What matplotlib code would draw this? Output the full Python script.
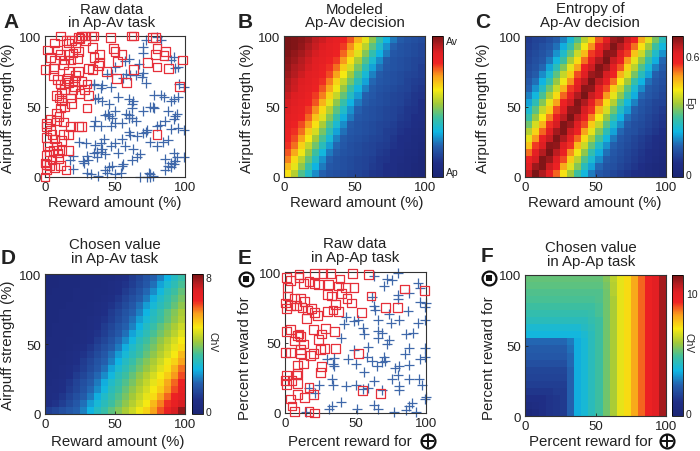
import matplotlib
matplotlib.use('Agg')
import matplotlib.pyplot as plt
from matplotlib.colors import LinearSegmentedColormap
from matplotlib.lines import Line2D

plt.rcParams['font.family'] = ['Liberation Sans', 'DejaVu Sans']
plt.rcParams['font.size'] = 8.5

W, H = 700, 452

# colour level 0-100 in every heatmap, top row first
decision = [
    [100,99,98,96,92,90,87,84,81,77,69,60,50,41,32,25,21,19,18,17],
    [100,99,97,94,91,88,85,83,79,73,64,55,45,36,28,22,19,18,17,16],
    [99,97,95,92,89,86,84,81,76,68,59,49,40,32,25,20,19,18,17,16],
    [98,96,93,90,87,85,82,79,72,63,53,44,35,27,21,19,18,17,16,15],
    [97,94,92,89,86,83,80,75,66,58,48,39,30,24,20,19,18,17,16,14],
    [96,93,90,87,85,82,78,71,62,52,43,34,26,21,19,18,17,16,15,14],
    [94,91,88,86,83,80,74,65,56,47,38,30,23,20,19,18,17,15,14,13],
    [93,90,87,85,82,77,70,61,51,42,33,26,21,19,18,17,16,15,13,12],
    [91,88,86,83,79,74,65,56,46,37,29,22,20,18,17,16,15,14,12,11],
    [89,87,84,81,77,69,60,50,41,32,25,21,19,18,17,16,15,13,12,10],
    [88,85,83,79,73,64,54,45,36,28,22,19,18,17,16,15,14,12,11,9],
    [86,84,81,76,67,59,49,40,31,25,20,19,18,17,16,15,13,12,10,9],
    [85,82,78,72,63,53,44,35,27,21,19,18,17,16,15,14,12,11,9,8],
    [83,80,75,66,58,48,39,30,24,20,19,18,17,16,14,13,11,10,8,7],
    [82,78,71,62,52,43,34,26,21,19,18,17,16,15,14,12,10,9,7,6],
    [80,75,65,56,47,38,29,23,20,18,17,16,15,14,13,11,10,8,7,5],
    [77,70,61,51,42,33,25,21,19,18,17,16,15,13,12,10,9,7,6,4],
    [74,64,55,46,37,28,22,19,18,17,16,15,14,12,11,9,8,6,5,3],
    [68,60,50,41,32,25,20,19,18,17,16,15,13,12,10,9,7,6,4,3],
    [63,54,44,36,27,22,19,18,17,16,15,14,12,11,9,8,6,5,3,2],
]
entropy = [
    [13,15,16,18,21,26,34,44,55,65,77,86,96,98,90,81,70,59,48,38],
    [14,16,18,20,24,31,40,50,61,73,83,91,99,93,85,75,63,52,42,33],
    [15,17,19,22,28,36,46,57,68,79,88,98,97,88,79,67,57,46,36,28],
    [16,18,20,25,33,42,53,64,75,85,94,100,91,83,72,60,50,40,31,23],
    [17,19,23,30,39,49,60,71,81,90,99,95,86,77,65,55,44,34,26,21],
    [18,21,27,35,45,56,66,78,87,96,98,89,81,69,59,48,38,30,22,19],
    [20,24,32,41,51,61,73,84,92,100,92,84,75,62,52,41,32,24,20,18],
    [22,28,37,47,57,69,79,88,98,97,87,78,66,56,45,35,27,21,19,17],
    [26,33,43,53,64,76,85,94,100,91,83,72,60,50,40,31,23,20,18,16],
    [30,39,49,60,71,82,90,99,94,85,76,64,54,43,33,26,20,18,16,15],
    [35,45,56,66,78,87,97,98,89,80,69,58,47,37,29,22,19,17,15,13],
    [41,51,62,74,84,92,100,92,84,74,62,51,41,32,24,20,18,16,14,12],
    [47,58,69,80,89,99,96,87,78,66,56,45,35,27,21,18,17,15,13,11],
    [54,65,76,86,95,99,90,82,71,60,49,39,30,23,19,18,16,14,12,10],
    [60,72,83,91,99,94,85,76,64,53,43,33,25,20,18,16,14,12,10,8],
    [67,79,88,98,97,88,80,68,57,46,36,28,22,19,17,15,13,11,9,7],
    [75,85,93,100,92,83,73,61,50,40,31,24,20,18,16,14,12,10,8,6],
    [81,89,99,96,87,78,66,55,44,35,27,21,19,17,15,13,11,9,7,5],
    [86,96,99,90,82,70,59,49,38,30,23,19,18,16,14,12,10,7,5,4],
    [91,100,94,85,76,63,52,42,33,25,20,18,16,14,12,10,8,6,5,3],
]
chosen_av = [
    [4,4,5,5,5,6,6,6,7,7,8,10,13,16,19,22,26,32,37,41],
    [4,4,5,5,5,6,6,6,7,8,9,11,14,17,20,24,30,35,39,43],
    [4,5,5,5,6,6,6,7,7,8,10,13,16,19,23,27,33,38,42,46],
    [5,5,5,5,6,6,6,7,8,9,12,15,18,21,25,31,36,40,44,48],
    [5,5,5,6,6,6,7,8,9,11,14,17,20,24,29,34,38,42,46,50],
    [5,5,6,6,6,7,7,8,10,13,16,19,22,26,32,37,41,45,49,53],
    [5,5,6,6,6,7,8,9,11,14,17,20,24,29,34,38,42,46,50,54],
    [5,6,6,6,7,7,8,10,13,16,19,22,26,32,37,41,45,49,53,57],
    [5,6,6,6,7,8,9,11,14,17,20,24,30,35,39,43,47,51,55,59],
    [6,6,6,7,7,8,10,13,16,19,23,27,33,38,42,46,50,54,58,62],
    [6,6,6,7,8,9,12,15,18,21,25,31,36,40,44,48,52,56,60,64],
    [6,6,7,8,9,11,14,17,20,24,29,34,38,42,46,50,54,58,62,68],
    [6,7,7,8,10,13,16,19,22,26,32,37,41,45,49,53,57,61,65,71],
    [6,7,8,9,11,14,17,20,24,30,35,39,43,47,51,55,59,63,69,75],
    [7,7,8,10,13,16,19,23,27,33,38,42,46,50,54,58,62,66,72,78],
    [7,8,9,12,15,18,21,25,31,36,40,44,48,52,56,60,64,70,76,82],
    [8,8,10,13,16,19,23,27,33,38,42,46,50,54,58,62,66,72,78,84],
    [8,9,12,15,18,21,25,31,36,40,44,48,52,56,60,64,70,76,82,86],
    [9,11,14,17,20,24,29,34,38,42,46,50,54,58,62,68,74,80,84,89],
    [14,16,18,20,22,26,32,37,41,45,49,53,57,61,65,71,77,83,89,97],
]
chosen_ap = [
    [46,46,46,46,46,46,46,46,46,46,46,49,55,60,64,70,76,82,86,95],
    [45,45,45,45,45,45,45,45,45,45,45,48,54,60,64,70,76,82,86,95],
    [44,44,44,44,44,44,44,44,44,44,44,47,54,60,64,70,76,82,86,95],
    [43,43,43,43,43,43,43,43,43,43,44,47,53,60,64,70,76,82,86,95],
    [42,42,42,42,42,42,42,42,42,42,43,47,53,60,64,70,76,82,86,95],
    [40,40,40,40,40,40,40,40,40,41,43,47,53,60,64,70,76,82,86,95],
    [38,38,38,38,38,38,38,38,38,40,42,47,53,60,64,70,76,82,86,95],
    [35,35,35,35,35,35,35,35,37,39,42,47,53,60,64,70,76,82,86,95],
    [33,33,33,33,33,33,33,33,35,38,42,47,53,60,64,70,76,82,86,95],
    [23,23,23,23,23,23,25,31,34,38,42,47,53,60,64,70,76,82,86,95],
    [21,21,21,21,21,21,24,31,34,38,42,47,53,60,64,70,76,82,86,95],
    [20,20,20,20,20,20,23,31,34,38,42,47,53,60,64,70,76,82,86,95],
    [18,18,18,18,18,18,23,31,34,38,42,47,53,60,64,70,76,82,86,95],
    [16,16,16,16,16,16,22,31,34,38,42,47,53,60,64,70,76,82,86,95],
    [15,15,15,15,15,15,22,31,34,38,42,47,53,60,64,70,76,82,86,95],
    [14,14,14,14,14,14,22,31,34,38,42,47,53,60,64,70,76,82,86,95],
    [12,12,12,12,13,13,22,31,34,38,42,47,53,60,64,70,76,82,86,95],
    [10,10,10,11,12,13,22,31,34,38,42,47,53,60,64,70,76,82,86,95],
    [7,8,10,11,12,13,22,31,34,38,42,47,53,60,64,70,76,82,86,95],
    [4,6,9,11,12,13,22,31,34,38,42,47,53,60,64,70,76,82,86,95],
]

# panel A, airpuff task
a_red_x = [11,26,28,33,35,24,47,62,63,77,79,2,7,15,17,19,25,34,39,49,50,55,52,39,38,23,24,17,18,11,7,14,
           0.5,6,17,24,31,34,44,6,9,11,21,26,17,30,20,14,12,25,31,18,12,30,14,11,10,4,1,1,8,13,18,24,26,
           1,7,13,17,2,8,6,12,17,1,10,0,1,1,7,15,0,51,58,63,80,79,86,85,73,80,88,98,96,80,
           13,20,9,4,22,29,8,16,22,19,8,4,5,12,3,9,5,3,11,28,35,14,10,21]
a_red_y = [100,100,100,100,100,99,99,100,100,99,99,90,95,97,95,97,98,92,87,91,89,87,82,81,79,84,89,87,83,87,83,83,
           76,77,75,75,77,76,75,72,69,66,68,68,67,66,62,62,59,59,58,56,54,49,50,49,43,41,38,36,40,39,36,36,36,
           28,27,30,30,22,22,19,19,19,15,13,10,9,5,7,5,0,70,67,76,91,87,89,86,81,78,77,83,64,30,
           80,88,90,85,92,97,58,70,72,52,45,33,30,26,18,17,12,8,8,62,85,66,56,64]
a_blue_x = [72,70,80,83,92,90,95,93,70,60,57,67,50,44,48,56,58,61,65,70,69,72,99,96,35,41,35,40,47,
            38,36,41,52,63,62,60,62,78,83,85,92,95,90,46,45,46,43,48,50,58,60,60,70,75,77,78,88,94,93,92,
            36,35,40,47,50,55,62,65,86,82,73,80,90,95,99,60,61,66,70,72,24,29,42,41,36,37,40,37,47,50,55,
            52,57,63,66,68,75,80,84,88,86,92,94,99,90,88,90,92,93,86,18,20,27,28,30,33,38,43,46,44,48,50,
            55,54,56,62,68,73,75,75,74,77,30,35,31,43,40,20]
a_blue_y = [97,92,99,97,85,83,78,77,88,84,82,80,78,73,73,70,73,72,72,74,71,67,64,66,65,65,66,63,64,
            56,55,54,57,54,52,55,49,58,58,57,55,57,54,52,45,43,44,42,47,45,44,42,47,50,50,49,47,45,43,41,
            40,36,36,36,38,38,42,40,40,37,33,36,34,35,33,32,30,29,31,32,25,24,27,20,23,18,18,14,22,24,27,
            17,22,20,14,16,25,22,25,26,13,17,14,14,10,8,7,9,11,5,12,6,11,10,3,2,1,5,7,3,8,2,
            8,3,9,12,0,0,2,0,3,1,15,17,12,16,24,15]

# panel E, two airpuff-free rewards
e_red_x = [1,4,10,10,21,27,32,48,59,13,17,21,24,31,39,38,43,49,2,2,30,33,40,44,47,7,11,14,0.5,1,4,8,12,19,16,21,
           15,23,30,34,36,38,54,61,71,80,85,99,1,4,10,9,11,20,26,29,35,7,13,24,0.5,4,11,11,18,20,25,28,36,52,
           9,13,26,25,8,9,1,0,1,5,9,17,9,14,20,4,5,7,17,21,55,68]
e_red_y = [96,94,98,96,99,99,99,99,98,92,93,92,91,91,95,90,89,89,89,83,84,83,85,81,78,81,81,79,78,74,76,76,75,74,73,71,
           67,69,72,73,77,72,71,83,75,75,88,87,58,59,56,55,54,59,56,60,58,51,49,52,43,43,42,45,41,42,45,46,46,42,
           34,35,33,29,27,28,27,23,20,23,21,18,13,11,13,10,5,1,1,0,16,14]
e_blue_x = [63,80,72,76,70,94,88,96,62,80,80,96,100,99,64,63,87,74,66,81,75,99,94,52,49,43,42,55,56,66,69,66,86,91,
            40,74,99,99,85,88,72,59,49,58,70,69,65,30,35,34,45,50,56,78,81,80,88,96,76,88,95,97,81,81,43,50,33,34,
            24,21,63,59,55,69,63,66,40,31,51,33,77,88,90,99,100,17,15,93,86,62,71,35]
e_blue_y = [97,99,95,94,90,92,85,89,82,84,81,79,78,75,73,76,72,70,66,66,64,66,64,66,65,68,63,60,56,58,57,53,56,57,
            53,52,46,40,42,46,49,47,45,40,40,36,33,38,39,35,38,35,29,32,33,27,34,38,24,24,24,20,19,16,19,20,24,20,
            20,14,23,18,17,16,6,3,8,3,3,5,1,5,7,10,11,18,1,1,2,37,37,33]

x_ticks = [0, 50, 100]
reward_label = 'Reward amount (%)'
airpuff_label = 'Airpuff strength (%)'
percent_label = 'Percent reward for'

cmap = LinearSegmentedColormap.from_list('muted_jet', [
    (0.00, '#1c2675'), (0.10, '#202f86'), (0.22, '#2560ae'), (0.32, '#0fb7e4'),
    (0.42, '#3dbfa0'), (0.52, '#a2c93a'), (0.62, '#f7ea12'), (0.72, '#f99d1c'),
    (0.81, '#ee2224'), (0.88, '#e01f23'), (0.94, '#b01c20'), (1.00, '#7a1416')])


def px_axes(x0, y0, x1, y1):
    return fig.add_axes([x0 / W, 1 - y1 / H, (x1 - x0) / W, (y1 - y0) / H])


def style(ax):
    ax.set_xlim(0, 100)
    ax.set_ylim(0, 100)
    ax.set_xticks(x_ticks)
    ax.set_yticks(x_ticks)
    ax.tick_params(direction='in', length=2, width=0.6, pad=3, labelsize=9.5, colors='#222222')
    for s in ax.spines.values():
        s.set_linewidth(0.8)
        s.set_color('#333333')


def heat(box, data, cbox, ticks, ticklabels):
    ax = px_axes(*box)
    im = ax.imshow(data, cmap=cmap, vmin=0, vmax=100, extent=(0, 100, 0, 100),
                   aspect='auto', interpolation='nearest')
    style(ax)
    cax = px_axes(*cbox)
    cb = fig.colorbar(im, cax=cax)
    cb.set_ticks(ticks)
    cb.set_ticklabels(ticklabels)
    cax.tick_params(length=0, pad=2, labelsize=7.5, colors='#222222')
    cb.outline.set_linewidth(0.6)
    return ax


def raw(box, rx, ry, bx, by):
    ax = px_axes(*box)
    ax.scatter(bx, by, marker='+', s=60, color='#3f68aa', linewidths=0.9, clip_on=False, zorder=2)
    ax.scatter(rx, ry, marker='s', s=40, facecolors='none', edgecolors='#e6303a',
               linewidths=0.9, clip_on=False, zorder=3)
    style(ax)
    return ax


def put(x, y, s, **kw):
    kw.setdefault('ha', 'center')
    kw.setdefault('va', 'center')
    fig.text(x / W, 1 - y / H, s, color='#222222', **kw)


def icon(x, y, inner):
    fig.add_artist(Line2D([x / W], [1 - y / H], marker='o', ms=10, mfc='white', mec='#111111', mew=1.6,
                          transform=fig.transFigure))
    if inner == 'square':
        fig.add_artist(Line2D([x / W], [1 - y / H], marker='s', ms=4, color='#111111', mew=0,
                              transform=fig.transFigure))
    else:
        fig.add_artist(Line2D([x / W], [1 - y / H], marker='+', ms=9, color='#111111', mew=1.4,
                              transform=fig.transFigure))


fig = plt.figure(figsize=(W / 100, H / 100), dpi=100)

raw((45, 37, 185, 178), a_red_x, a_red_y, a_blue_x, a_blue_y)
heat((284, 37, 425, 178), decision, (432, 37, 443, 178), [97, 4], ['Av', 'Ap'])
heat((525, 37, 666, 178), entropy, (672, 37, 683, 178), [86, 2], ['0.6', '0'])
heat((45, 275, 185, 415), chosen_av, (192, 275, 203, 415), [98, 2], ['8', '0'])
raw((285, 273, 426, 414), e_red_x, e_red_y, e_blue_x, e_blue_y)
heat((525, 276, 666, 417), chosen_ap, (672, 276, 683, 417), [87, 2], ['10', '0'])

titles = [(112, 16.5, 'Raw data\nin Ap-Av task'), (355, 16.5, 'Modeled\nAp-Av decision'),
          (590, 16.5, 'Entropy of\nAp-Av decision'), (115, 252.5, 'Chosen value\nin Ap-Av task'),
          (355, 251.5, 'Raw data\nin Ap-Ap task'), (591, 255.5, 'Chosen value\nin Ap-Ap task')]
for x, y, s in titles:
    put(x, y, s, fontsize=10.8, linespacing=1.0)

for x, y, s in [(3, 22, 'A'), (238, 22, 'B'), (475, 22, 'C'), (1, 258, 'D'), (238, 259, 'E'), (481, 257, 'F')]:
    put(x, y, s, fontsize=15, fontweight='bold', ha='left')

for x, y in [(115, 203), (357, 203), (595, 203), (118, 442)]:
    put(x, y, reward_label, fontsize=10.8)
for x, y in [(8, 108), (247, 108), (483, 108), (8, 345)]:
    put(x, y, airpuff_label, fontsize=10.8, rotation=90)

put(350, 442, percent_label, fontsize=10.8)
put(591, 442, percent_label, fontsize=10.8)
put(245, 358, percent_label, fontsize=10.8, rotation=90)
put(489, 358, percent_label, fontsize=10.8, rotation=90)

put(689, 103, 'Ep', fontsize=7.5, rotation=270)
put(212, 342, 'ChV', fontsize=7.5, rotation=270)
put(689, 343, 'ChV', fontsize=7.5, rotation=270)

icon(246, 280, 'square')
icon(489, 279, 'square')
icon(428, 442, 'plus')
icon(667, 442, 'plus')

plt.savefig('out.png', dpi=100)
